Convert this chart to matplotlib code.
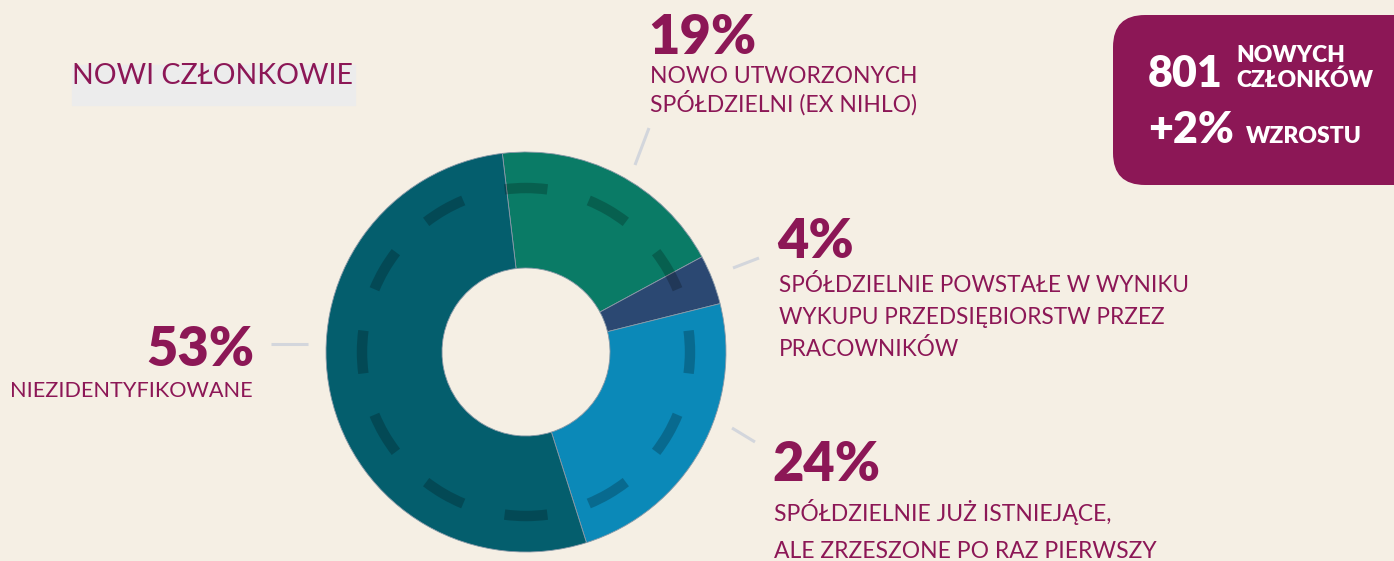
import matplotlib.pyplot as plt
from matplotlib.patches import Arc, FancyBboxPatch, Rectangle

# dane
kategorie = ["Nowo utworzone", "Wykup przez pracowników", "Już istniejące", "Niezidentyfikowane"]
udzialy = [19, 4, 24, 53]
kolory = ["#0a7b66", "#2b4872", "#0b89b8", "#045e6d"]

etykiety_proc = ["19%", "4%", "24%", "53%"]
etykiety_opis = [
    ["NOWO UTWORZONYCH", "SPÓŁDZIELNI (EX NIHLO)"],
    ["SPÓŁDZIELNIE POWSTAŁE W WYNIKU", "WYKUPU PRZEDSIĘBIORSTW PRZEZ", "PRACOWNIKÓW"],
    ["SPÓŁDZIELNIE JUŻ ISTNIEJĄCE,", "ALE ZRZESZONE PO RAZ PIERWSZY"],
    ["NIEZIDENTYFIKOWANE"],
]
liczba_nowych = 801
wzrost = 2

W, H = 1394, 561
TLO = "#f5efe4"
MAGENTA = "#8c1756"
SZARY = "#d3d6dc"


def y(p):
    # piksele od góry -> współrzędne osi
    return H - p


fig = plt.figure(figsize=(W / 100, H / 100), dpi=100)
fig.patch.set_facecolor(TLO)
ax = fig.add_axes([0, 0, 1, 1])
ax.set_facecolor(TLO)

# pierścień
cx, cy, R = 526, 352, 200
ax.pie(udzialy, colors=kolory, startangle=96.8, counterclock=False,
       center=(cx, y(cy)), radius=R,
       wedgeprops=dict(width=116, linewidth=0.6, edgecolor="#8a9aa8"))

# przerywany okrąg w środku pierścienia
for kat in range(0, 360, 30):
    ax.add_patch(Arc((cx, y(cy)), 2 * 164, 2 * 164, theta1=kat - 7.5, theta2=kat + 7.5,
                     lw=7.5, color="black", alpha=0.22, capstyle="butt"))

ax.set_xlim(0, W)
ax.set_ylim(0, H)
ax.set_aspect("equal")
ax.axis("off")

# tytuł
ax.add_patch(Rectangle((72, y(105)), 283, 40, color="#ececec", zorder=1))
ax.text(72, y(84), "NOWI CZŁONKOWIE", fontsize=20.5, color=MAGENTA,
        family="Lato", weight="normal", va="baseline", zorder=2)

# linie łączące
linie = [((649, 128), (635, 165)), ((733, 268), (759, 258)),
         ((732, 428), (755, 442)), ((271, 344), (308, 344))]
for (x0, y0), (x1, y1) in linie:
    ax.plot([x0, x1], [y(y0), y(y1)], color=SZARY, lw=2.2, solid_capstyle="butt")

# etykiety
pozycje = [(648, 54, "left"), (777, 258, "left"), (772, 481, "left"), (254, 366, "right")]
linia_pierwsza = [83, 292, 521, 397]
odstep = [29, 32, 37, 0]
rozmiar_opisu = [16.5, 16.3, 16.5, 15.6]
for proc, opis, (px, py, ha), l0, dl, fs in zip(etykiety_proc, etykiety_opis, pozycje,
                                                linia_pierwsza, odstep, rozmiar_opisu):
    ax.text(px, y(py), proc, fontsize=39, color=MAGENTA, family="Lato",
            weight="heavy", ha=ha, va="baseline")
    for i, wiersz in enumerate(opis):
        ax.text(px + (2 if ha == "left" else -1), y(l0 + i * dl), wiersz,
                fontsize=fs, color=MAGENTA, family="Lato", weight="normal",
                ha=ha, va="baseline")

# ramka z podsumowaniem
ax.add_patch(FancyBboxPatch((1113, y(185)), 330, 170,
                            boxstyle="round,pad=0,rounding_size=32",
                            facecolor="#8c1756", edgecolor="none"))
ax.text(1148, y(87), str(liczba_nowych), fontsize=31, color="white",
        family="Lato", weight="heavy", va="baseline")
ax.text(1236, y(62), "NOWYCH", fontsize=16.5, color="white",
        family="Lato", weight="heavy", va="baseline")
ax.text(1236, y(87), "CZŁONKÓW", fontsize=16.5, color="white",
        family="Lato", weight="heavy", va="baseline")
ax.text(1148, y(143), f"+{wzrost}%", fontsize=31, color="white",
        family="Lato", weight="heavy", va="baseline")
ax.text(1246, y(143), "WZROSTU", fontsize=16.5, color="white",
        family="Lato", weight="heavy", va="baseline")

fig.savefig("out.png", dpi=100, facecolor=TLO)
